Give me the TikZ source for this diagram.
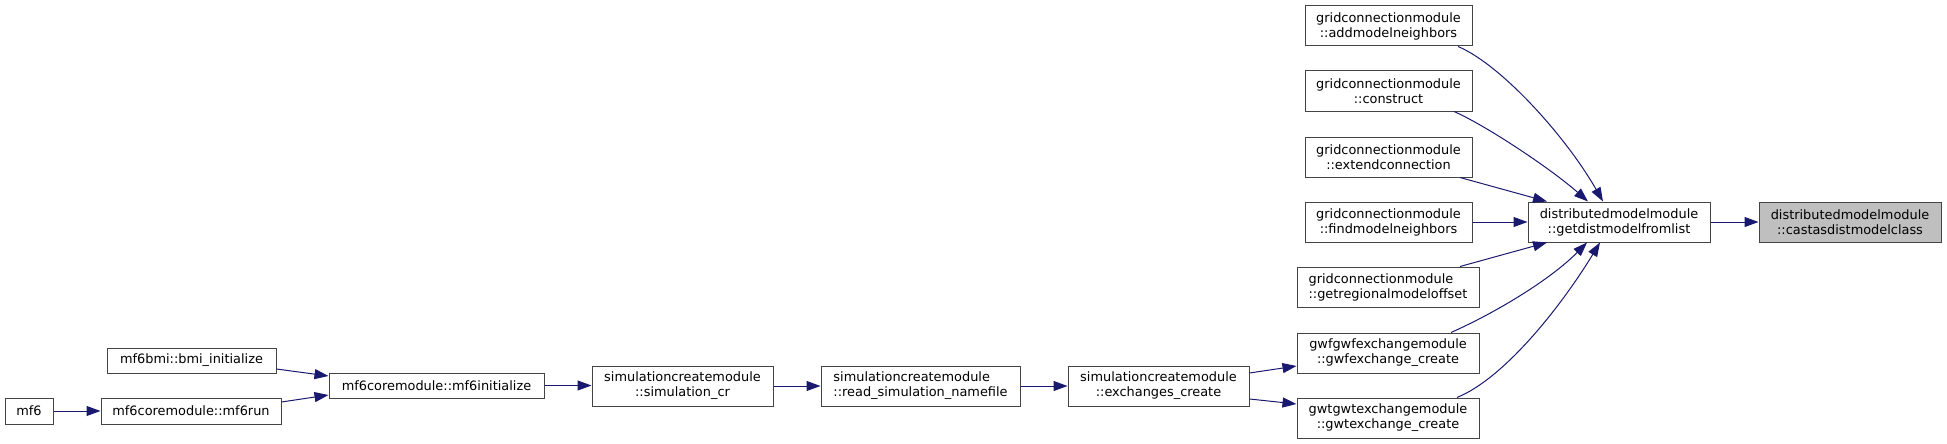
\documentclass[tikz,border=0pt]{standalone}
\usepackage{fontspec}
\setmainfont{DejaVu Sans}
\usetikzlibrary{arrows.meta}
\definecolor{edgecol}{HTML}{191970}
\definecolor{boxline}{HTML}{444444}
\definecolor{hlfill}{HTML}{BFBFBF}
\tikzset{
  fn/.style={draw=boxline, line width=1pt, fill=white, inner sep=0pt, align=center,
    font=\fontsize{12.9}{15}\selectfont, minimum height=40pt},
  fnl/.style={fn, align=left},
  fnone/.style={fn, minimum height=26pt},
  edge/.style={draw=edgecol, line width=1pt, -{Triangle[length=14pt,width=10pt]}},
}
\begin{document}
\begin{tikzpicture}[x=1pt,y=-1pt]
\useasboundingbox (0,0) rectangle (1947,444);
% left part
\node[fnone, minimum width=48pt] (mf6) at (29,411) {mf6};
\node[fnone, minimum width=169pt, minimum height=25pt] (bmi) at (191.5,360.5) {mf6bmi::bmi\_initialize};
\node[fnone, minimum width=180pt] (run) at (191,411) {mf6coremodule::mf6run};
\node[fnone, minimum width=215pt, minimum height=25pt] (init) at (436.5,385.5) {mf6coremodule::mf6initialize};
\node[fn, minimum width=181pt] (simcr) at (682.5,386) {simulationcreatemodule\\::simulation\_cr};
\node[fnl, minimum width=199pt] (readsim) at (920.5,386) {simulationcreatemodule\\::read\_simulation\_namefile};
\node[fn, minimum width=181pt] (exch) at (1158.5,386) {simulationcreatemodule\\::exchanges\_create};
% right column
\node[fn, minimum width=167pt] (addmn) at (1388.5,26) {gridconnectionmodule\\::addmodelneighbors};
\node[fn, minimum width=167pt] (constr) at (1388.5,91) {gridconnectionmodule\\::construct};
\node[fn, minimum width=167pt] (extc) at (1388.5,157) {gridconnectionmodule\\::extendconnection};
\node[fn, minimum width=167pt] (findmn) at (1388.5,222) {gridconnectionmodule\\::findmodelneighbors};
\node[fnl, minimum width=182pt] (getreg) at (1388,287) {gridconnectionmodule\\::getregionalmodeloffset};
\node[fn, minimum width=182pt] (gwf) at (1388,353) {gwfgwfexchangemodule\\::gwfexchange\_create};
\node[fn, minimum width=182pt] (gwt) at (1388,418) {gwtgwtexchangemodule\\::gwtexchange\_create};
\node[fn, minimum width=182pt] (getdist) at (1619,222) {distributedmodelmodule\\::getdistmodelfromlist};
\node[fn, minimum width=182pt, fill=hlfill] (castas) at (1850,222) {distributedmodelmodule\\::castasdistmodelclass};
% edges
\draw[edge] (mf6) -- (run);
\draw[edge] ([yshift=-8.5pt]bmi.east) -- ([yshift=9.5pt]init.west);
\draw[edge] ([yshift=9pt]run.east) -- ([yshift=-9.5pt]init.west);
\draw[edge] (init.east) -- (init.east -| simcr.west);
\draw[edge] (simcr) -- (readsim);
\draw[edge] (readsim) -- (exch);
\draw[edge] ([yshift=13pt]exch.east) -- ([yshift=-13pt]gwf.west);
\draw[edge] ([yshift=-13pt]exch.east) -- ([yshift=14pt]gwt.west);
\draw[edge] ([xshift=69.5pt]addmn.south) .. controls (1500,64) and (1565,135) .. ([xshift=-16pt]getdist.north);
\draw[edge] ([xshift=65.5pt]constr.south) .. controls (1485,125) and (1550,168) .. ([xshift=-31pt]getdist.north);
\draw[edge] ([xshift=71.5pt]extc.south) -- ([xshift=-72pt]getdist.north);
\draw[edge] (findmn) -- (getdist);
\draw[edge] ([xshift=72pt]getreg.north) -- ([xshift=-72pt]getdist.south);
\draw[edge] ([xshift=63pt]gwf.north) .. controls (1495,313) and (1550,280) .. ([xshift=-32pt]getdist.south);
\draw[edge] ([xshift=69pt]gwt.north) .. controls (1505,378) and (1562,305) .. ([xshift=-19pt]getdist.south);
\draw[edge] (getdist) -- (castas);
\end{tikzpicture}
\end{document}
